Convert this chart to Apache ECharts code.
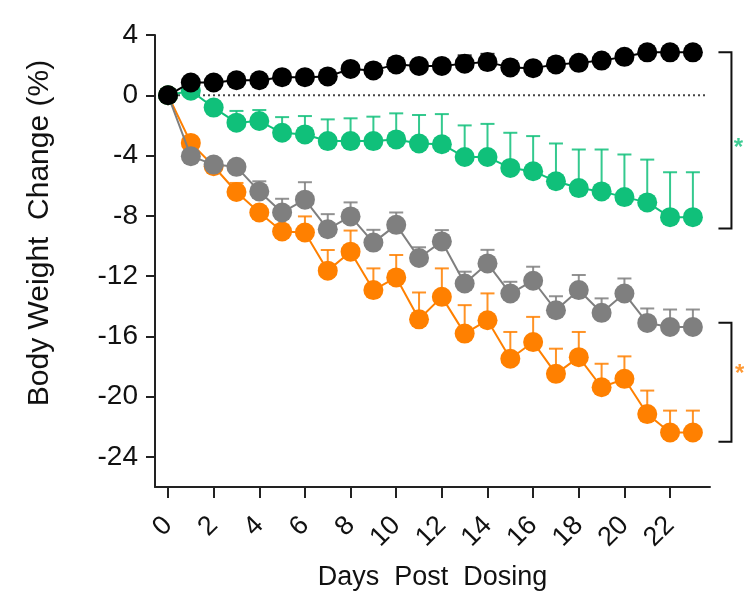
<!DOCTYPE html>
<html>
<head>
<meta charset="utf-8">
<script src="https://cdn.jsdelivr.net/npm/echarts@6/dist/echarts.min.js"></script>
<style>
html,body{margin:0;padding:0;background:#fff;}
#chart{width:744px;height:600px;}
</style>
</head>
<body>
<div id="chart"></div>
<script>
// ---- data ----
const days = [0,1,2,3,4,5,6,7,8,9,10,11,12,13,14,15,16,17,18,19,20,21,22,23];
const xTickValues = [0,2,4,6,8,10,12,14,16,18,20,22];
const yTickValues = [4,0,-4,-8,-12,-16,-20,-24];

const blackMean = [0,0.85,0.85,1.0,1.0,1.2,1.2,1.25,1.75,1.65,2.05,1.95,1.95,2.1,2.2,1.85,1.8,2.05,2.15,2.3,2.55,2.85,2.85,2.85];
const blackErr  = [0,0.3,0.3,0.3,0.3,0.35,0.35,0.35,0.35,0.35,0.4,0.4,0.4,0.55,0.55,0.4,0.4,0.4,0.4,0.4,0.4,0.4,0.4,0.4];

const greenMean = [0,0.3,-0.82,-1.82,-1.71,-2.49,-2.6,-3.04,-3.04,-3.04,-2.93,-3.2,-3.25,-4.1,-4.1,-4.82,-5.04,-5.71,-6.16,-6.38,-6.76,-7.11,-8.09,-8.09];
const greenErr  = [0,0.3,0.4,0.78,0.73,1.04,1.22,1.44,1.51,1.62,1.73,1.89,2.0,2.1,2.2,2.33,2.33,2.51,2.56,2.78,2.83,2.84,2.98,2.98];

const grayMean = [0,-4.04,-4.6,-4.75,-6.38,-7.78,-6.93,-8.89,-8.04,-9.78,-8.6,-10.8,-9.7,-12.49,-11.16,-13.16,-12.31,-14.27,-12.93,-14.44,-13.16,-15.11,-15.38,-15.38];
const grayErr  = [0,0.3,0.3,0.35,0.67,0.91,1.16,1.0,0.93,0.85,0.82,0.71,0.75,0.78,0.9,0.78,0.93,0.93,1.0,0.96,1.0,0.96,1.16,1.16];

const orangeMean = [0,-3.16,-4.71,-6.42,-7.78,-9.04,-9.11,-11.64,-10.38,-12.93,-12.09,-14.87,-13.38,-15.82,-14.93,-17.49,-16.38,-18.49,-17.38,-19.38,-18.82,-21.16,-22.38,-22.38];
const orangeErr  = [0,0.3,0.3,0.6,0.4,0.45,1.07,1.37,1.4,1.44,1.49,1.78,1.89,1.89,1.78,1.78,1.67,1.67,1.67,1.56,1.49,1.56,1.45,1.45];

const zeroLineX = [0, 23.66];
const bracketX = [24.12, 24.69];
const bracketTop = [2.85, -8.85];     // black vs green
const bracketBottom = [-15.1, -23.0]; // gray vs orange
const starX = [25.0, 25.05];
const starY = [-3.5, -18.5];

// ---- styles ----
const C_BLACK = '#000000', C_GREEN = '#10c07a', C_GRAY = '#7f7f7f', C_ORANGE = '#ff8000';
const FONT = '"Liberation Sans", Arial, sans-serif';

function errRender(color){
  return function(params, api){
    const x = api.value(0), y = api.value(1), e = api.value(2);
    const p0 = api.coord([x, y]);
    const p1 = api.coord([x, y + e]);
    const hw = 7;
    return {type:'group', children:[
      {type:'line', shape:{x1:p0[0], y1:p0[1], x2:p1[0], y2:p1[1]}, style:{stroke:color, lineWidth:2, opacity:0.85}},
      {type:'line', shape:{x1:p1[0]-hw, y1:p1[1], x2:p1[0]+hw, y2:p1[1]}, style:{stroke:color, lineWidth:2, opacity:0.85}}
    ]};
  };
}
function bracketRender(params, api){
  const x0 = api.value(0), x1 = api.value(1), yA = api.value(2), yB = api.value(3);
  const a = api.coord([x0, yA]), b = api.coord([x1, yA]);
  const c = api.coord([x1, yB]), d = api.coord([x0, yB]);
  return {type:'polyline', shape:{points:[a,b,c,d]}, style:{stroke:'#111', lineWidth:2, fill:null}};
}
function pairs(mean){ return days.map((d,i)=>[d, mean[i]]); }
function triples(mean, err){ return days.map((d,i)=>[d, mean[i], err[i]]); }

function group(name, mean, err, color, zBase){
  return [
    {type:'custom', name:name+' err', data:triples(mean, err), renderItem:errRender(color), z:zBase, silent:true},
    {type:'line', name:name, data:pairs(mean), symbol:'circle', symbolSize:20,
     itemStyle:{color:color}, lineStyle:{color:color, width:2}, z:zBase+1, silent:true}
  ];
}

const chart = echarts.init(document.getElementById('chart'), null, {renderer:'canvas'});
chart.setOption({
  animation:false,
  backgroundColor:'#fff',
  grid:{left:155, right:34, top:35, bottom:113, containLabel:false, outerBoundsMode:'none'},
  xAxis:{
    type:'value', min:-0.57, max:23.75,
    name:'Days  Post  Dosing', nameLocation:'middle', nameGap:77,
    nameTextStyle:{fontFamily:FONT, fontSize:27, color:'#111'},
    axisLine:{onZero:false, lineStyle:{color:'#222', width:2}},
    axisTick:{show:true, customValues:xTickValues, length:11, lineStyle:{color:'#222', width:2}},
    axisLabel:{customValues:xTickValues, rotate:45, margin:34, fontFamily:FONT, fontSize:27, color:'#111'},
    splitLine:{show:false}
  },
  yAxis:{
    type:'value', min:-26, max:4,
    axisLine:{onZero:false, lineStyle:{color:'#222', width:2}},
    axisTick:{show:true, customValues:yTickValues, length:9, lineStyle:{color:'#222', width:2}},
    axisLabel:{customValues:yTickValues, margin:17, fontFamily:FONT, fontSize:28, color:'#111'},
    splitLine:{show:false}
  },
  graphic:[{
    type:'text', x:40, y:233, rotation:Math.PI/2,
    style:{text:'Body Weight  Change (%)', font:'30px '+FONT, fill:'#111', textAlign:'center', textVerticalAlign:'middle'}
  }],
  series:[
    {type:'line', name:'zero', data:[[zeroLineX[0],0],[zeroLineX[1],0]], symbol:'none',
     lineStyle:{color:'#444', width:2, type:[2,3]}, z:0, silent:true},
    ...group('orange', orangeMean, orangeErr, C_ORANGE, 1),
    ...group('gray', grayMean, grayErr, C_GRAY, 3),
    ...group('green', greenMean, greenErr, C_GREEN, 5),
    ...group('black', blackMean, blackErr, C_BLACK, 7),
    {type:'custom', name:'brackets', clip:false, silent:true, renderItem:bracketRender,
     data:[
       [bracketX[0], bracketX[1], bracketTop[0], bracketTop[1]],
       [bracketX[0], bracketX[1], bracketBottom[0], bracketBottom[1]]
     ], z:10},
    {type:'scatter', name:'stars', clip:false, symbolSize:1, silent:true,
     itemStyle:{color:'rgba(0,0,0,0)'},
     data:[
       {value:[starX[0], starY[0]], label:{color:C_GREEN}},
       {value:[starX[1], starY[1]], label:{color:C_ORANGE}}
     ],
     label:{show:true, position:'inside', formatter:'*', fontFamily:FONT, fontSize:24, fontWeight:'bold'}}
  ]
});
</script>
</body>
</html>
